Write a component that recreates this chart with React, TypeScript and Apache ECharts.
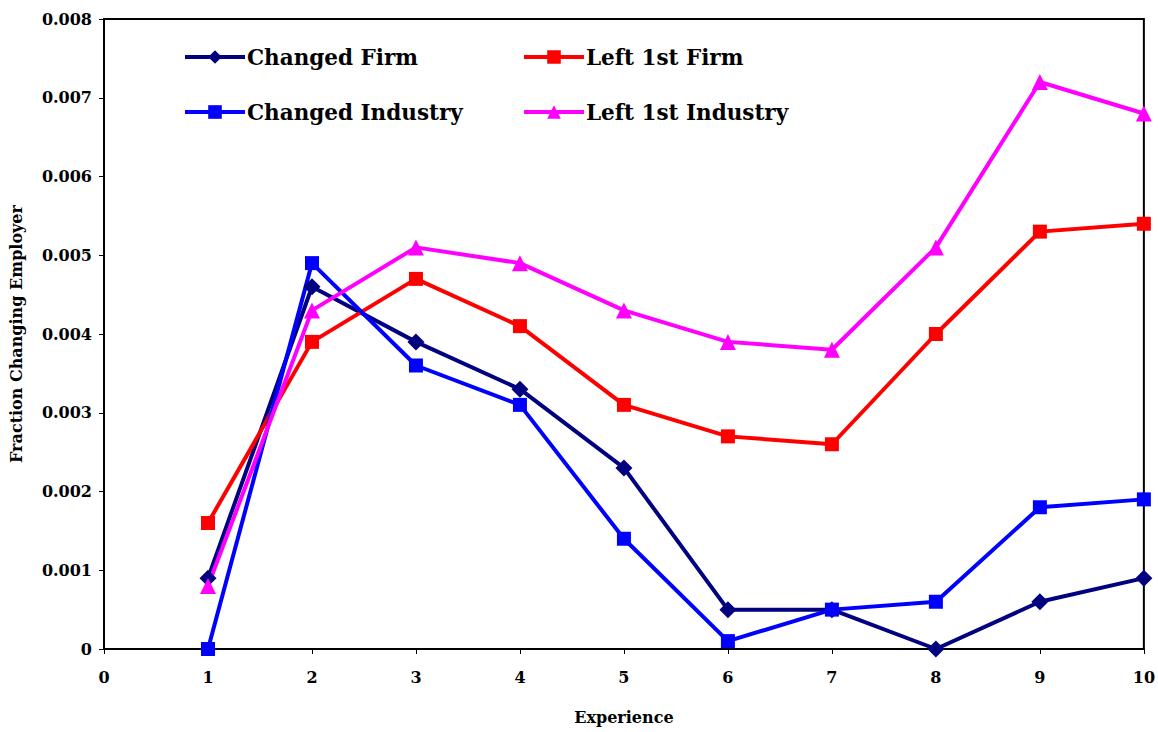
import React, { useEffect, useRef } from "react";
import * as echarts from "echarts";

const experience = [1, 2, 3, 4, 5, 6, 7, 8, 9, 10];
const changedFirm = [0.0009, 0.0046, 0.0039, 0.0033, 0.0023, 0.0005, 0.0005, 0.0, 0.0006, 0.0009];
const leftFirstFirm = [0.0016, 0.0039, 0.0047, 0.0041, 0.0031, 0.0027, 0.0026, 0.004, 0.0053, 0.0054];
const changedIndustry = [0.0, 0.0049, 0.0036, 0.0031, 0.0014, 0.0001, 0.0005, 0.0006, 0.0018, 0.0019];
const leftFirstIndustry = [0.0008, 0.0043, 0.0051, 0.0049, 0.0043, 0.0039, 0.0038, 0.0051, 0.0072, 0.0068];

const FONT = "'DejaVu Serif', 'Liberation Serif', serif";

const pairs = (ys: number[]) => experience.map((x, i) => [x, ys[i]]);

export default function App() {
  const ref = useRef<HTMLDivElement>(null);
  useEffect(() => {
    if (!ref.current) return;
    const chart = echarts.init(ref.current, null, { renderer: "svg" });
    const mk = (name: string, data: number[], color: string, symbol: string, size: number) => ({
      name,
      type: "line",
      data: pairs(data),
      symbol,
      symbolSize: size,
      showSymbol: true,
      lineStyle: { color, width: 4 },
      itemStyle: { color, borderWidth: 0 },
    });
    const legendBase = {
      orient: "vertical",
      top: 46,
      padding: 0,
      itemWidth: 60,
      itemHeight: 17,
      itemGap: 33,
      lineStyle: { width: 4 },
      textStyle: {
        fontFamily: FONT,
        fontSize: 21.5,
        fontWeight: "bold",
        color: "#000",
        padding: [0, 0, 0, -3],
      },
    };
    chart.setOption({
      animation: false,
      backgroundColor: "#ffffff",
      grid: {
        left: 104,
        right: 14,
        top: 19,
        bottom: 83,
        show: true,
        borderColor: "#000",
        borderWidth: 2,
        containLabel: false,
      },
      legend: [
        { ...legendBase, data: ["Changed Firm", "Changed Industry"], left: 183 },
        { ...legendBase, data: ["Left 1st Firm", "Left 1st Industry"], left: 522 },
      ],
      xAxis: {
        type: "value",
        min: 0,
        max: 10,
        interval: 1,
        name: "Experience",
        nameLocation: "middle",
        nameGap: 60,
        nameTextStyle: { fontFamily: FONT, fontSize: 16, fontWeight: "bold", color: "#000" },
        axisLine: { lineStyle: { color: "#000", width: 2 } },
        axisTick: { show: true, inside: false, length: 5, lineStyle: { color: "#000", width: 1 } },
        axisLabel: { fontFamily: FONT, fontSize: 16, fontWeight: "bold", color: "#000", margin: 20 },
        splitLine: { show: false },
      },
      yAxis: {
        type: "value",
        min: 0,
        max: 0.008,
        interval: 0.001,
        name: "Fraction Changing Employer",
        nameLocation: "middle",
        nameRotate: 90,
        nameGap: 80,
        nameTextStyle: { fontFamily: FONT, fontSize: 16, fontWeight: "bold", color: "#000" },
        axisLine: { show: true, lineStyle: { color: "#000", width: 2 } },
        axisTick: { show: true, inside: false, length: 5, lineStyle: { color: "#000", width: 1 } },
        axisLabel: {
          fontFamily: FONT,
          fontSize: 16,
          fontWeight: "bold",
          color: "#000",
          margin: 12,
          formatter: (v: number) => (v === 0 ? "0" : v.toFixed(3)),
        },
        splitLine: { show: false },
      },
      series: [
        mk("Changed Firm", changedFirm, "#000080", "diamond", 17),
        mk("Left 1st Firm", leftFirstFirm, "#ff0000", "rect", 14),
        mk("Changed Industry", changedIndustry, "#0000ff", "rect", 14),
        mk("Left 1st Industry", leftFirstIndustry, "#ff00ff", "triangle", 16),
      ],
    });
    return () => chart.dispose();
  }, []);
  return <div ref={ref} style={{ width: 1158, height: 732, position: "absolute", left: 0, top: 0 }} />;
}
